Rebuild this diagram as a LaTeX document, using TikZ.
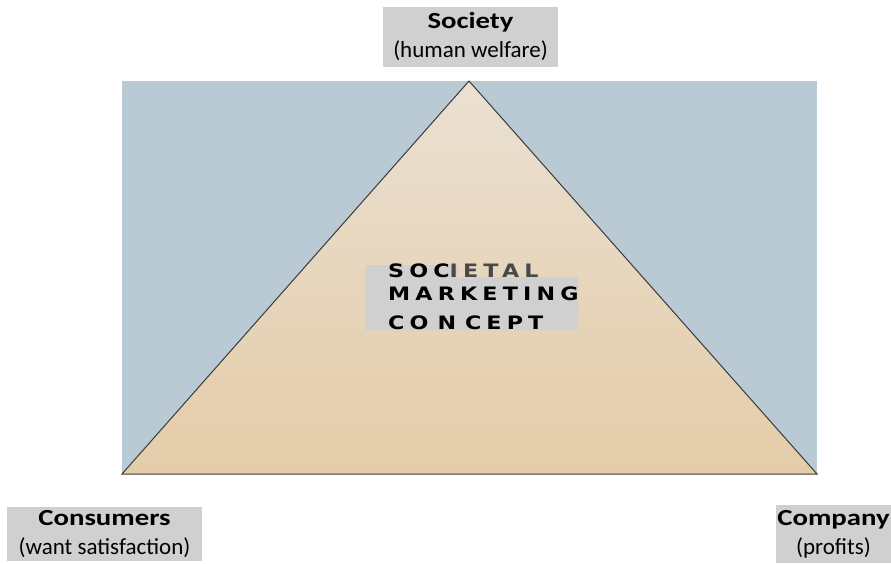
\documentclass[tikz,border=0pt]{standalone}
\usepackage{fontspec}
\setmainfont{Carlito}
\newfontfamily\widefont[FakeStretch=1.2,LetterSpace=28]{DejaVu Sans}
\newfontfamily\boldwide[FakeStretch=1.25]{Carlito}
\definecolor{bluebg}{HTML}{B9CAD4}
\definecolor{tritop}{HTML}{EAE0D2}
\definecolor{tribot}{HTML}{E4CCA8}
\definecolor{edgecol}{HTML}{3A3A3A}
\definecolor{boxgray}{HTML}{D0D0D0}
\definecolor{ietal}{HTML}{484848}
\newcommand{\lblhead}[1]{{\boldwide\bfseries #1}}
\begin{document}
\begin{tikzpicture}[x=1pt,y=-1pt,
  labelbox/.style={fill=boxgray, inner sep=0pt, align=center,
    font=\fontsize{23}{29}\selectfont},
  ctext/.style={inner sep=0pt, anchor=base west,
    font=\widefont\bfseries\fontsize{18.5}{20}\selectfont}]
\useasboundingbox (0,0) rectangle (891,564);
% background panel
\fill[bluebg] (122,81) rectangle (817,474);
% triangle
\coordinate (apex) at (469,81);
\coordinate (bl) at (122,474);
\coordinate (br) at (817,474);
\path[draw=edgecol, line width=1pt, top color=tritop, bottom color=tribot]
  (apex) -- (br) -- (bl) -- cycle;
% centre gray box
\fill[boxgray] (365,265) -- (458,265) -- (458,277) -- (578,277) -- (578,330) -- (365,330) -- cycle;
% centre text
\node[ctext] (l1) at (388,277.5) {SOC\textcolor{ietal}{IETAL}};
\node[ctext] (l2) at (388,300.5) {MARKETING};
\node[ctext] (l3) at (388,329.5) {CO\hspace{9pt}N\hspace{9pt}C\hspace{5pt}EPT};
% labels
\node[labelbox, minimum width=175pt, minimum height=60pt] (society) at (470.5,37)
  {\lblhead{Society}\\(human welfare)};
\node[labelbox, minimum width=195pt, minimum height=54pt] (consumers) at (104.5,534)
  {\lblhead{Consumers}\\(want satisfaction)};
\node[labelbox, minimum width=115pt, minimum height=58pt] (company) at (833.5,534)
  {\lblhead{Company}\\(profits)};
\end{tikzpicture}
\end{document}
